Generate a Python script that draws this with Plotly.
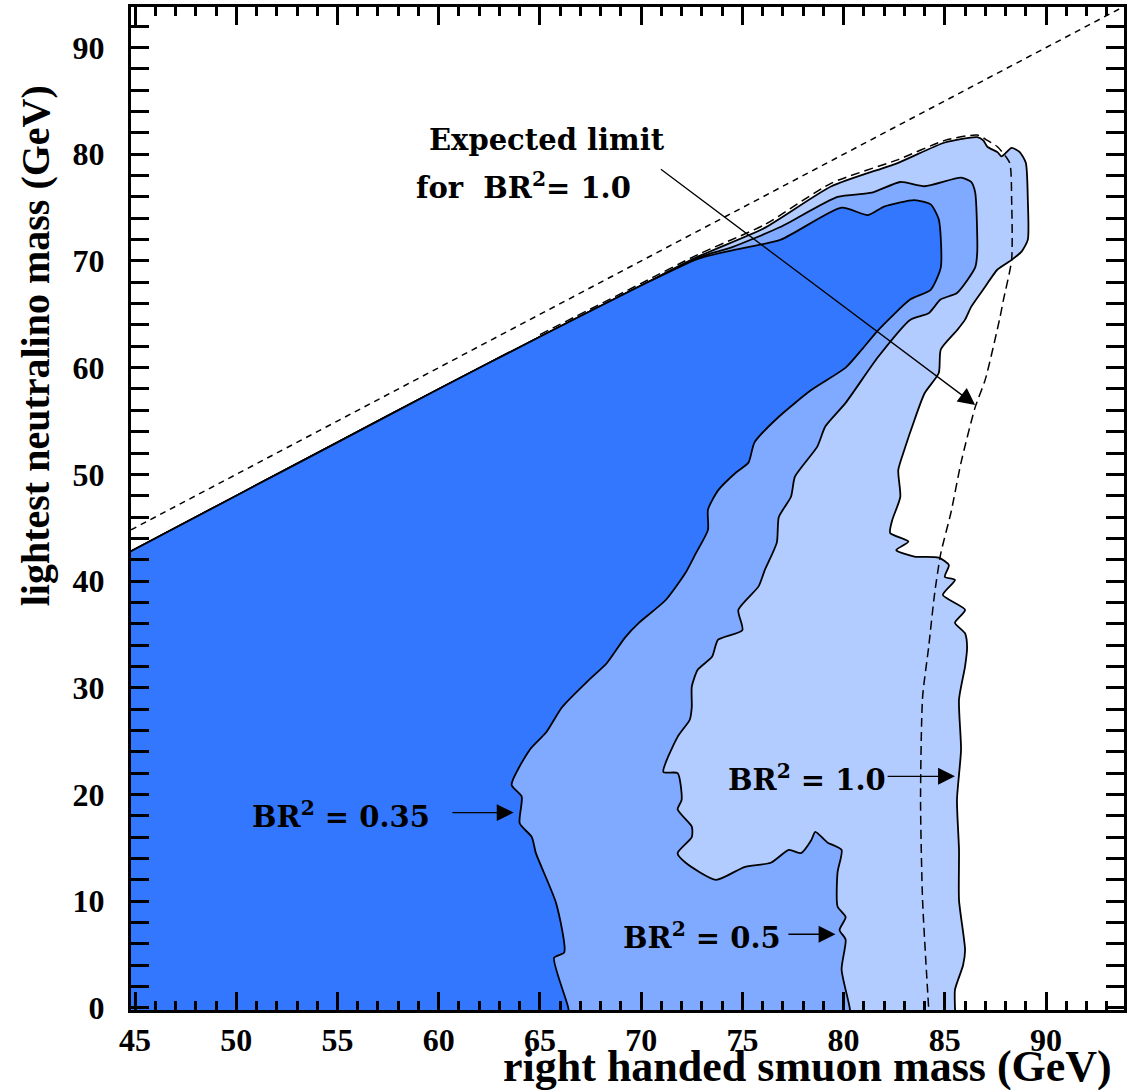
import plotly.graph_objects as go

# BR^2 = 1.0 excluded region (outer contour)
x_br100 = [44.5, 50, 55, 60, 65, 70, 72.8, 76.1, 79.4, 82.7, 85.0, 86.6, 86.9, 87.1, 87.6, 87.8,
           88.3, 88.7, 89.0, 89.1, 89.1, 88.8, 88.3, 87.6, 87.0, 86.3, 86.0, 85.6, 84.8, 84.7,
           84.0, 83.5, 83.0, 82.7, 82.8, 82.4, 82.3, 83.2, 82.6, 83.5, 84.7, 85.2, 85.0, 85.5,
           84.9, 86.0, 85.5, 86.0, 86.1, 86.0, 85.7, 85.8, 85.6, 85.7, 85.7, 86.0, 85.9, 85.5,
           85.5, 85.5, 44.5]
y_br100 = [42.5, 48.0, 53.0, 58.0, 62.9, 67.7, 70.4, 73.1, 77.0, 79.2, 81.1, 81.6, 81.3, 80.7, 80.2, 79.8,
           80.6, 80.2, 79.2, 75.7, 72.0, 70.9, 70.1, 69.2, 67.6, 65.7, 64.5, 63.5, 61.7, 59.5,
           57.6, 55.1, 52.3, 50.4, 47.9, 45.7, 44.5, 43.7, 42.9, 42.3, 42.2, 41.5, 40.4, 40.1,
           38.7, 37.3, 36.1, 35.1, 33.8, 32.0, 28.9, 24.2, 19.5, 14.8, 10.1, 5.4, 4.0, 1.7,
           0, -1, -1]

# BR^2 = 0.5 excluded region
x_br050 = [44.5, 50, 55, 60, 65, 70, 72.8, 74.5, 76.9, 79.7, 81.4, 82.8, 84.0, 85.8, 86.3, 86.5,
           86.6, 86.5, 85.6, 84.8, 84.2, 83.3, 81.7, 80.1, 79.1, 78.7, 77.6, 77.4, 76.8, 76.7,
           76.1, 75.8, 74.8, 75.0, 73.8, 73.5, 72.8, 72.5, 72.5, 72.4, 71.8, 71.1, 71.8, 72.0,
           71.8, 72.5, 72.5, 71.8, 72.2, 73.7, 75.1, 76.4, 77.3, 77.9, 78.4, 78.6, 79.2, 79.9,
           79.7, 79.7, 80.1, 79.8, 80.1, 79.9, 80.3, 80.3, 44.5]
y_br050 = [42.5, 48.0, 53.0, 58.0, 62.9, 67.7, 70.3, 71.3, 73.2, 76.0, 76.4, 77.4, 77.0, 77.8, 77.4, 76.4,
           70.8, 69.4, 67.0, 66.4, 65.1, 64.5, 61.0, 56.7, 54.5, 52.6, 49.8, 47.9, 46.0, 43.6,
           41.0, 39.5, 37.3, 35.4, 34.5, 32.9, 31.7, 30.1, 28.2, 27.0, 25.4, 22.1, 22.0, 19.5,
           18.6, 17.0, 16.0, 14.5, 13.6, 12.0, 13.2, 13.6, 14.8, 14.5, 15.7, 16.5, 15.5, 14.8,
           12.7, 9.5, 8.5, 7.3, 6.4, 3.6, 0, -1, -1]

# BR^2 = 0.35 excluded region
x_br035 = [44.5, 50, 55, 60, 65, 70, 72.8, 74.5, 76.9, 79.9, 81.2, 82.0, 83.5, 84.3, 84.7, 84.8,
           84.3, 83.3, 81.7, 80.9, 80.1, 78.4, 76.8, 75.6, 75.3, 74.7, 73.8, 73.3, 73.3, 72.7,
           72.2, 71.2, 69.9, 69.2, 68.3, 67.4, 66.1, 65.3, 64.5, 63.6, 64.1, 64.0, 64.6, 64.8,
           65.8, 66.2, 65.7, 66.4, 66.4, 44.5]
y_br035 = [42.5, 48.0, 53.0, 58.0, 62.9, 67.7, 70.2, 71.0, 72.0, 75.0, 74.3, 75.1, 75.7, 75.3, 73.9, 69.4,
           67.3, 66.4, 63.5, 61.7, 60.0, 57.9, 55.4, 53.0, 51.1, 50.2, 48.5, 46.7, 44.8, 42.6,
           40.8, 38.2, 36.1, 34.7, 32.3, 30.7, 28.2, 25.8, 24.2, 20.9, 19.8, 17.3, 16.0, 14.5,
           9.8, 5.2, 4.7, 0, -1, -1]

# expected limit for BR^2 = 1.0
x_exp = [65, 70, 72.8, 76.1, 79.4, 82.7, 85.0, 86.6, 87.1, 87.6, 88.2, 88.3, 88.3, 87.9, 87.7,
         87.0, 86.5, 85.8, 85.3, 84.8, 84.5, 84.2, 83.9, 83.8, 83.9, 84.2]
y_exp = [63.1, 67.9, 70.6, 73.4, 77.3, 79.5, 81.3, 81.8, 81.3, 80.7, 79.2, 75.7, 70.1, 66.4, 64.5,
         58.9, 56.3, 51.1, 46.4, 42.6, 38.9, 33.8, 29.1, 19.5, 10.1, 0]

# kinematic limit m_chi = m_smuon
x_kin = [44.8, 93.85]
y_kin = [44.8, 93.85]

x_range = [44.8, 93.85]
y_range = [-0.2, 93.8]

light = "#B3CCFF"
medium = "#80AAFF"
dark = "#3377FF"

fig = go.Figure()
for xs, ys, col in [(x_br100, y_br100, light), (x_br050, y_br050, medium), (x_br035, y_br035, dark)]:
    fig.add_trace(go.Scatter(x=xs, y=ys, mode="lines", fill="toself", fillcolor=col,
                             line=dict(color="black", width=1.8, shape="spline", smoothing=0.6),
                             hoverinfo="skip"))
fig.add_trace(go.Scatter(x=x_exp, y=y_exp, mode="lines",
                         line=dict(color="black", width=1.5, dash="9px,5px", shape="spline", smoothing=0.6)))
# kinematic line drawn on the top axis so that its ticks are drawn too
fig.add_trace(go.Scatter(x=x_kin, y=y_kin, mode="lines", xaxis="x2",
                         line=dict(color="black", width=1.5, dash="6px,5px")))

afont = dict(family="DejaVu Serif", size=29, color="black", weight="bold")
tfont = dict(family="Liberation Serif", size=32, color="black", weight="bold")

ann = [
    dict(x=59.4, y=81.3, text="Expected limit", xanchor="left"),
    dict(x=58.8, y=77.0, text="for  BR<sup>2</sup>= 1.0", xanchor="left"),
    dict(x=50.7, y=18.1, text="BR<sup>2</sup> = 0.35", xanchor="left"),
    dict(x=74.2, y=21.5, text="BR<sup>2</sup> = 1.0", xanchor="left"),
    dict(x=69.0, y=6.7, text="BR<sup>2</sup> = 0.5", xanchor="left"),
]
annotations = [dict(xref="x", yref="y", showarrow=False, font=afont, yanchor="middle", **a) for a in ann]

arrows = [
    (70.9, 78.7, 86.5, 56.5),
    (60.6, 18.3, 63.7, 18.3),
    (82.1, 21.7, 85.5, 21.7),
    (77.2, 6.9, 79.6, 6.9),
]
for ax0, ay0, x1, y1 in arrows:
    annotations.append(dict(x=x1, y=y1, ax=ax0, ay=ay0, xref="x", yref="y", axref="x", ayref="y",
                            text="", showarrow=True, arrowhead=2, arrowsize=2.6, arrowwidth=1.3,
                            arrowcolor="black", standoff=0))

annotations.append(dict(xref="paper", yref="paper", x=0.99, y=-0.056, xanchor="right", yanchor="middle",
                        text="right handed smuon mass (GeV)", showarrow=False,
                        font=dict(family="Liberation Serif", size=44, color="black", weight="bold")))
annotations.append(dict(xref="paper", yref="paper", x=-0.0964, y=0.662, xanchor="center", yanchor="middle",
                        text="lightest neutralino mass (GeV)", showarrow=False, textangle=-90,
                        font=dict(family="Liberation Serif", size=40, color="black", weight="bold")))

axis_common = dict(showline=True, linewidth=3, linecolor="black", layer="above traces",
                   ticks="inside", ticklen=18, tickwidth=3, tickcolor="black", mirror="allticks",
                   showgrid=False, zeroline=False, tickfont=tfont)
x_minor = dict(ticks="inside", dtick=1, tick0=45, ticklen=9, tickwidth=3, tickcolor="black", showgrid=False)

fig.update_layout(width=1129, height=1090, margin=dict(l=131, r=2, t=7, b=80),
                  plot_bgcolor="white", paper_bgcolor="white", showlegend=False,
                  annotations=annotations)
fig.update_xaxes(range=x_range, tickmode="linear", tick0=45, dtick=5, minor=x_minor, **axis_common)
fig.update_layout(xaxis2=dict(overlaying="x", side="top", anchor="y", range=x_range,
                              tickmode="linear", tick0=45, dtick=5, showticklabels=False,
                              minor=x_minor, **axis_common))
fig.update_yaxes(range=y_range, tickmode="linear", tick0=0, dtick=10, ticklabelstandoff=17,
                 minor=dict(ticks="inside", dtick=2, ticklen=9, tickwidth=3, tickcolor="black"),
                 **axis_common)

fig.write_html("out.html", config={"displayModeBar": False},
               post_script="document.body.style.margin='0px';")
